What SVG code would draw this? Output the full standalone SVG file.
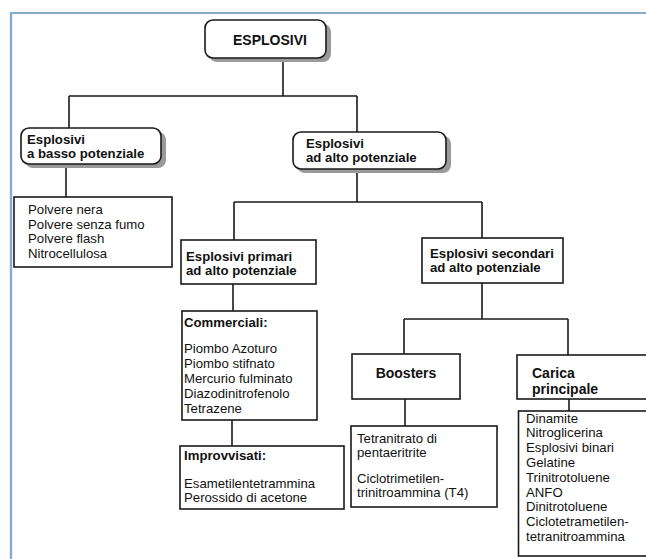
<svg xmlns="http://www.w3.org/2000/svg" width="646" height="559" viewBox="0 0 646 559">
<style>
.box{fill:#fff;stroke:#1a1a1a;stroke-width:1.6}
.rbox{fill:#fff;stroke:#1a1a1a;stroke-width:1.6}
.sh{fill:#9a9a9a}
.conn{fill:none;stroke:#1a1a1a;stroke-width:1.6}
text{font-family:"Liberation Sans",Arial,Helvetica,sans-serif;font-size:13.2px;fill:#111}
.b{font-weight:bold}
.big{font-size:14px}
</style>
<rect x="0" y="0" width="646" height="559" fill="#fff"/>
<g id="frame">
<line x1="10" y1="13" x2="646" y2="13" stroke="#88acce" stroke-width="2"/>
<line x1="11" y1="12" x2="11" y2="559" stroke="#88acce" stroke-width="2.4"/>
</g>
<g id="connectors">
<path class="conn" d="M283,58 V96 M69,96 H357 M69,96 V128 M357,96 V132"/>
<path class="conn" d="M66,164 V197"/>
<path class="conn" d="M357,169 V202 M234,202 H482 M234,202 V240 M482,202 V238"/>
<path class="conn" d="M233,284 V311"/>
<path class="conn" d="M232,420 V446"/>
<path class="conn" d="M482,283 V319 M404,319 H568 M404,319 V354 M568,319 V355"/>
<path class="conn" d="M405,399 V426"/>
<path class="conn" d="M569,399 V411"/>
</g>
<g id="esplosivi">
<rect class="sh" x="209" y="24" width="122" height="38" rx="8"/>
<rect class="rbox" x="205" y="20" width="121" height="38" rx="8"/>
<text class="b big" x="233" y="45">ESPLOSIVI</text>
</g>
<g id="basso">
<rect class="sh" x="25" y="132" width="141" height="36" rx="8"/>
<rect class="rbox" x="21" y="128" width="140" height="36" rx="8"/>
<text class="b" x="27" y="143.6">Esplosivi<tspan x="27" dy="14.8">a basso potenziale</tspan></text>
</g>
<g id="alto">
<rect class="sh" x="297" y="136" width="154" height="37" rx="8"/>
<rect class="rbox" x="293" y="132" width="153" height="37" rx="8"/>
<text class="b" x="306" y="147.6">Esplosivi<tspan x="306" dy="14.8">ad alto potenziale</tspan></text>
</g>
<g id="polvere">
<rect class="box" x="14" y="197" width="158" height="70"/>
<text x="28" y="213.8">Polvere nera<tspan x="28" dy="14.8">Polvere senza fumo</tspan><tspan x="28" dy="14.8">Polvere flash</tspan><tspan x="28" dy="14.8">Nitrocellulosa</tspan></text>
</g>
<g id="primari">
<rect class="box" x="181" y="240" width="135" height="44"/>
<text class="b" x="186" y="260.6">Esplosivi primari<tspan x="186" dy="14.8">ad alto potenziale</tspan></text>
</g>
<g id="commerciali">
<rect class="box" x="182" y="311" width="135" height="109"/>
<text x="184" y="327"><tspan class="b">Commerciali:</tspan><tspan x="184" dy="26.4">Piombo Azoturo</tspan><tspan x="184" dy="14.8">Piombo stifnato</tspan><tspan x="184" dy="14.8">Mercurio fulminato</tspan><tspan x="184" dy="14.8">Diazodinitrofenolo</tspan><tspan x="184" dy="14.8">Tetrazene</tspan></text>
</g>
<g id="improvvisati">
<rect class="box" x="180" y="446" width="164" height="63"/>
<text x="184" y="460"><tspan class="b">Improvvisati:</tspan><tspan x="184" dy="27.6">Esametilentetrammina</tspan><tspan x="184" dy="14.8">Perossido di acetone</tspan></text>
</g>
<g id="secondari">
<rect class="box" x="422" y="238" width="141" height="45"/>
<text class="b" x="430" y="257.6">Esplosivi secondari<tspan x="430" dy="14.8">ad alto potenziale</tspan></text>
</g>
<g id="boosters">
<rect class="box" x="352" y="354" width="108" height="45"/>
<text class="b big" x="406" y="378" text-anchor="middle">Boosters</text>
</g>
<g id="tetranitrato">
<rect class="box" x="351" y="426" width="146" height="81"/>
<text x="357" y="442.6">Tetranitrato di<tspan x="357" dy="14.8">pentaeritrite</tspan><tspan x="357" dy="25.2">Ciclotrimetilen-</tspan><tspan x="357" dy="14.8">trinitroammina (T4)</tspan></text>
</g>
<g id="carica">
<rect class="box" x="517" y="355" width="140" height="44"/>
<text class="b big" x="532" y="378">Carica<tspan x="532" dy="15.6">principale</tspan></text>
</g>
<g id="dinamite">
<rect class="box" x="518.5" y="411" width="140" height="145"/>
<text x="526" y="422.5">Dinamite<tspan x="526" dy="14.8">Nitroglicerina</tspan><tspan x="526" dy="14.8">Esplosivi binari</tspan><tspan x="526" dy="14.8">Gelatine</tspan><tspan x="526" dy="14.8">Trinitrotoluene</tspan><tspan x="526" dy="14.8">ANFO</tspan><tspan x="526" dy="14.8">Dinitrotoluene</tspan><tspan x="526" dy="14.8">Ciclotetrametilen-</tspan><tspan x="526" dy="14.8">tetranitroammina</tspan></text>
</g>
</svg>
